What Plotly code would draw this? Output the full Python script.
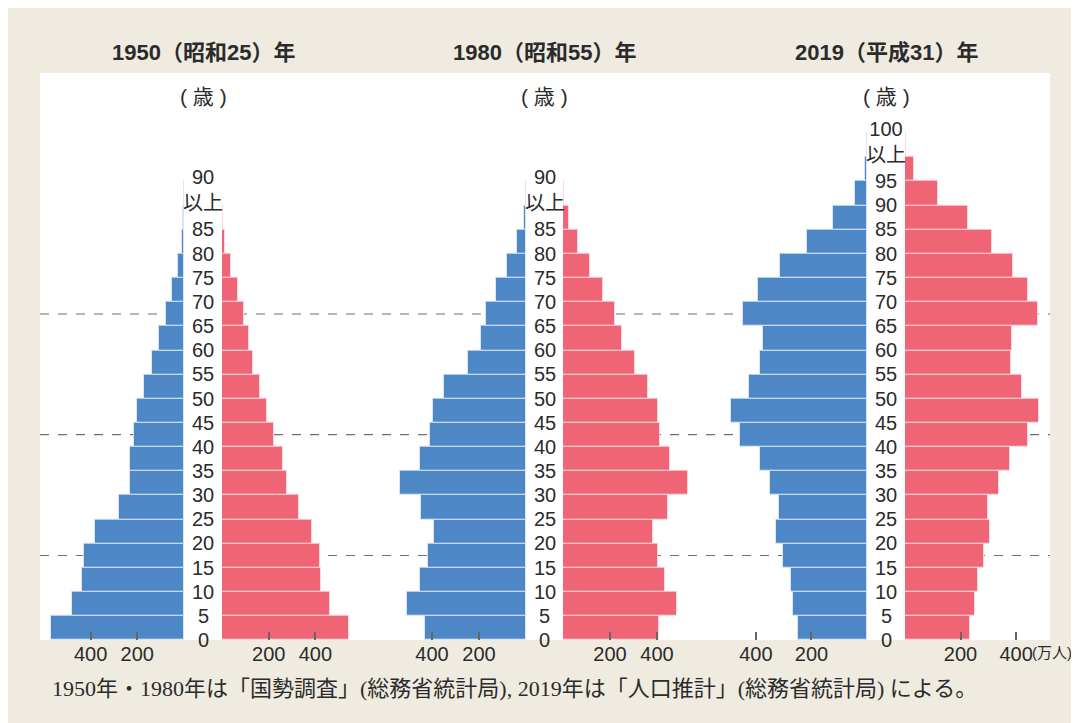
import plotly.graph_objects as go

# the page shows the figure with an 8px body margin, so the figure is 8px smaller
OFF = 8
W, H = 1079 - OFF, 723 - OFF

# 5-year age bands (start age of each band); last band is "以上"
ages_old = [0, 5, 10, 15, 20, 25, 30, 35, 40, 45, 50, 55, 60, 65, 70, 75, 80, 85, 90]
ages_2019 = ages_old + [95, 100]

# population (万人), bands 0-4 ... top band
male_1950 = [569, 480, 437, 428, 380, 278, 232, 233, 215, 200, 170, 136, 107, 76, 50, 24, 7, 4, 1]
female_1950 = [544, 464, 425, 420, 384, 331, 278, 261, 223, 194, 164, 134, 116, 93, 68, 37, 13, 5, 2]
male_1980 = [431, 508, 452, 416, 390, 448, 535, 452, 410, 397, 349, 247, 190, 170, 128, 81, 37, 10, 2]
female_1980 = [410, 485, 433, 403, 384, 446, 531, 457, 414, 403, 363, 308, 250, 220, 169, 116, 65, 26, 6]
male_2019 = [247, 265, 275, 302, 326, 317, 350, 386, 456, 490, 423, 384, 374, 448, 391, 314, 217, 121, 43, 6, 1]
female_2019 = [234, 251, 262, 286, 306, 299, 337, 377, 444, 481, 420, 383, 384, 477, 442, 388, 313, 227, 120, 34, 4]

titles = ["1950（昭和25）年", "1980（昭和55）年", "2019（平成31）年"]
x_ticks = [200, 400]
dashed_ages = [17.5, 42.5, 67.5]
footnote = "1950年・1980年は「国勢調査」(総務省統計局), 2019年は「人口推計」(総務省統計局) による。"

BLUE = "rgb(77,135,198)"
RED = "rgb(240,101,117)"
BG = "#EFEBE1"
TXT = "#2b2b2b"
SANS = "Liberation Sans, Noto Sans CJK JP, sans-serif"

# pixel layout (window pixels)
Y0_PX = 640          # age 0
PX_PER_YEAR = 4.83
Y_MAX = 110
PANEL = (40, 73, 1050, 640)


def px_x(x):
    return (x - OFF) / W


def px_y(y):
    return 1 - (y - OFF) / H


# per pyramid: (left edge, male zero, female zero, right edge, px per 万人)
geom = [
    (40, 184, 222, 375, 0.2335),
    (380, 526, 563, 715, 0.235),
    (720, 867, 905, 1050, 0.2778),
]

panels = [
    (ages_old, male_1950, female_1950, "90<br>以上"),
    (ages_old, male_1980, female_1980, "90<br>以上"),
    (ages_2019, male_2019, female_2019, "100<br>以上"),
]

fig = go.Figure()
layout = dict(
    width=W, height=H,
    margin=dict(l=0, r=0, t=0, b=0),
    paper_bgcolor=BG, plot_bgcolor="rgba(0,0,0,0)",
    showlegend=False, bargap=0,
    yaxis=dict(domain=[px_y(Y0_PX), px_y(Y0_PX - Y_MAX * PX_PER_YEAR)],
               range=[0, Y_MAX], visible=False, fixedrange=True),
)

shapes = [dict(type="rect", xref="paper", yref="paper",
               x0=px_x(PANEL[0]), x1=px_x(PANEL[2]),
               y0=px_y(PANEL[3]), y1=px_y(PANEL[1]),
               fillcolor="white", line_width=0, layer="below")]
for a in dashed_ages:
    shapes.append(dict(type="line", xref="paper", yref="y",
                       x0=px_x(PANEL[0]), x1=px_x(PANEL[2]), y0=a, y1=a,
                       line=dict(color="#6f6f6f", width=1.2, dash="dash"), layer="below"))
annotations = []

for i, ((ages, male, female, top_label), (left, mz, fz, right, scale)) in enumerate(zip(panels, geom)):
    xm = 2 * i + 1
    xf = 2 * i + 2
    mid = [a + 2.5 for a in ages]
    fig.add_trace(go.Bar(x=male, y=mid, width=5, orientation="h",
                         marker=dict(color=BLUE, line=dict(color="rgba(220,232,248,0.9)", width=1)),
                         xaxis="x" if xm == 1 else f"x{xm}", yaxis="y"))
    fig.add_trace(go.Bar(x=female, y=mid, width=5, orientation="h",
                         marker=dict(color=RED, line=dict(color="rgba(252,220,225,0.9)", width=1)),
                         xaxis=f"x{xf}", yaxis="y"))
    common = dict(anchor="y", tickvals=x_ticks, ticks="inside", ticklen=8, tickwidth=1.5,
                  tickcolor="#666", showgrid=False, zeroline=False, showline=False,
                  tickfont=dict(family=SANS, size=20, color=TXT), fixedrange=True)
    layout["xaxis" if xm == 1 else f"xaxis{xm}"] = dict(
        domain=[px_x(left), px_x(mz)], range=[(mz - left) / scale, 0], **common)
    layout[f"xaxis{xf}"] = dict(
        domain=[px_x(fz), px_x(right)], range=[0, (right - fz) / scale], **common)

    # white column behind the age labels
    shapes.append(dict(type="rect", xref="paper", yref="paper",
                       x0=px_x(mz), x1=px_x(fz), y0=px_y(PANEL[3]), y1=px_y(PANEL[1]),
                       fillcolor="white", line_width=0, layer="below"))

    cx = px_x((mz + fz) / 2)
    for a in ages[:-1]:
        annotations.append(dict(x=cx, y=a, xref="paper", yref="y", text=str(a),
                                xanchor="center", yanchor="middle", showarrow=False,
                                font=dict(family=SANS, size=20, color=TXT)))
    annotations.append(dict(x=cx, y=ages[-1] + 2.5, xref="paper", yref="y", text=top_label,
                            xanchor="center", yanchor="middle", showarrow=False, yshift=3,
                            font=dict(family=SANS, size=20, color=TXT)))
    annotations.append(dict(x=cx, y=px_y(97), xref="paper", yref="paper", text="( 歳 )",
                            xanchor="center", yanchor="middle", showarrow=False,
                            font=dict(family=SANS, size=21, color=TXT)))
    annotations.append(dict(x=cx, y=px_y(52), xref="paper", yref="paper",
                            text=f"<b>{titles[i]}</b>", xanchor="center", yanchor="middle",
                            showarrow=False, font=dict(family=SANS, size=22, color=TXT)))

annotations.append(dict(x=px_x(1030), y=px_y(652), xref="paper", yref="paper", text="(万人)",
                        xanchor="left", yanchor="middle", showarrow=False,
                        font=dict(family=SANS, size=15, color=TXT)))
annotations.append(dict(x=px_x(50), y=px_y(688), xref="paper", yref="paper", text=footnote,
                        xanchor="left", yanchor="middle", showarrow=False,
                        font=dict(family="Liberation Serif, Noto Sans CJK JP, serif", size=22,
                                  color=TXT)))

layout["shapes"] = shapes
layout["annotations"] = annotations
fig.update_layout(**layout)

fig.write_html("out.html")
